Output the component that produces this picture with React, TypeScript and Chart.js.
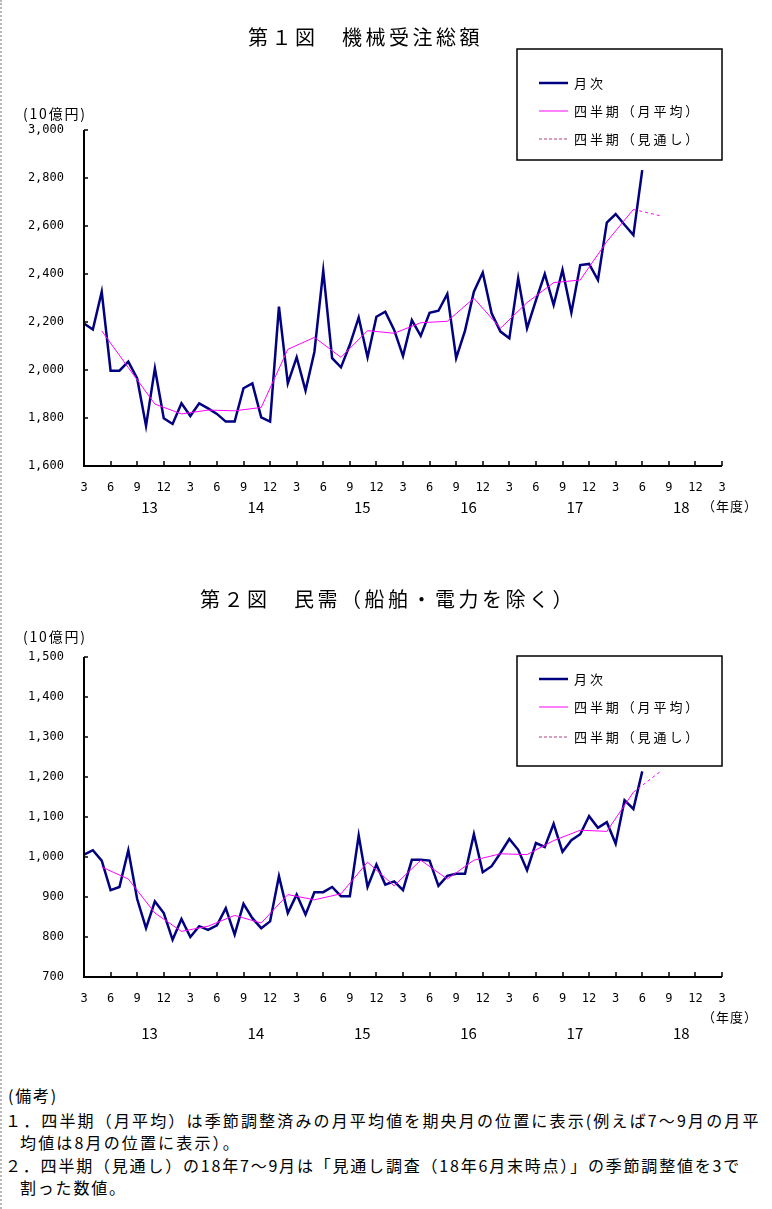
import React, { useEffect, useRef } from "react";
import { Chart, registerables } from "chart.js";

Chart.register(...registerables);

// ---------- data ----------
// x index 0 = March 2013 (FY labels "3 6 9 12"), one step per month
const MONTH_TICK_LABELS = ["3", "6", "9", "12"];
const FISCAL_YEARS = ["13", "14", "15", "16", "17", "18"];

// Fig.1 machinery orders total (10 billion yen), monthly Mar-2013 .. Jun-2018
const total_monthly = [
  2194, 2169, 2326, 1997, 1997, 2035, 1965, 1767, 2007, 1799, 1775, 1861,
  1808, 1861, 1840, 1817, 1785, 1785, 1924, 1944, 1803, 1785, 2264, 1944,
  2053, 1914, 2075, 2414, 2049, 2011, 2105, 2219, 2053, 2222, 2243, 2167,
  2058, 2208, 2142, 2238, 2247, 2317, 2049, 2164, 2326, 2406, 2236, 2160,
  2132, 2382, 2174, 2290, 2400, 2271, 2417, 2239, 2437, 2442, 2375, 2614,
  2650, 2605, 2562, 2833,
];
// quarterly average, plotted at the middle month of each quarter (May-2013 ..)
const total_quarterly = [
  2163, 2010, 1858, 1817, 1833, 1830, 1844, 2086, 2136, 2053, 2164,
  2153, 2197, 2203, 2299, 2174, 2281, 2364, 2375, 2535, 2669,
];
// outlook: last quarter (Apr-Jun 2018) -> Jul-Sep 2018 outlook
const total_outlook = [2669, 2643];

// Fig.2 private demand excluding ships & electric power
const private_monthly = [
  1006, 1017, 991, 917, 925, 1017, 895, 822, 889, 860, 793, 845,
  800, 827, 818, 829, 872, 806, 883, 847, 822, 839, 952, 860,
  906, 856, 912, 912, 925, 902, 902, 1054, 925, 981, 931, 939,
  917, 993, 993, 991, 928, 953, 958, 958, 1057, 962, 977, 1010,
  1045, 1018, 967, 1035, 1025, 1083, 1013, 1042, 1057, 1102, 1073, 1087,
  1033, 1142, 1120, 1214,
];
const private_quarterly = [
  975, 945, 860, 814, 827, 854, 835, 906, 893, 908, 987,
  928, 992, 945, 992, 1008, 1006, 1041, 1067, 1064, 1162,
];
const private_outlook = [1162, 1213];

const LEGEND_LABELS = ["月次", "四半期（月平均）", "四半期（見通し）"];

// ---------- styles ----------
const JP = "'Noto Sans CJK JP', 'Noto Sans', sans-serif";
const MONO = "'DejaVu Sans Mono', monospace";
const NAVY = "#000080";
const MAGENTA = "#ff00ff";

const monthlyPts = (arr: number[]) => arr.map((v, i) => ({ x: i, y: v }));
const quarterlyPts = (arr: number[]) => arr.map((v, i) => ({ x: 2 + 3 * i, y: v }));
const outlookPts = (arr: number[]) => arr.map((v, i) => ({ x: 62 + 3 * i, y: v }));

type Cfg = {
  top: number;
  height: number;
  padTop: number;
  xAxisH: number;
  yMin: number;
  yMax: number;
  step: number;
  monthly: number[];
  quarterly: number[];
  outlook: number[];
  unitY: number;
  yearY: number;
  nendoY: number;
  legendBox: [number, number, number, number];
  legendRows: number[];
};

const decorPlugin = {
  id: "decor",
  afterDraw(chart: any, _args: any, opts: any) {
    const cfg: Cfg = opts.cfg;
    const ctx: CanvasRenderingContext2D = chart.ctx;
    const { left, right, top, bottom } = chart.chartArea;
    const xs = chart.scales.x;
    const ys = chart.scales.y;
    ctx.save();
    // axes
    ctx.strokeStyle = "#000";
    ctx.lineWidth = 2;
    ctx.beginPath();
    ctx.moveTo(left, top);
    ctx.lineTo(left, bottom);
    ctx.lineTo(right, bottom);
    ctx.stroke();
    // inward ticks
    ctx.lineWidth = 1.5;
    ctx.beginPath();
    ys.ticks.forEach((t: any) => {
      const y = Math.round(ys.getPixelForValue(t.value));
      ctx.moveTo(left, y);
      ctx.lineTo(left + 4, y);
    });
    xs.ticks.forEach((t: any) => {
      const x = Math.round(xs.getPixelForValue(t.value));
      ctx.moveTo(x, bottom);
      ctx.lineTo(x, bottom - 5);
    });
    ctx.stroke();

    // fiscal year labels
    ctx.fillStyle = "#000";
    ctx.textAlign = "center";
    ctx.textBaseline = "middle";
    ctx.font = `15px ${JP}`;
    FISCAL_YEARS.forEach((fy, k) => {
      ctx.fillText(fy, xs.getPixelForValue(7.4 + 12 * k), cfg.yearY);
    });
    ctx.font = `13px ${JP}`;
    (ctx as any).letterSpacing = "1px";
    ctx.textAlign = "left";
    ctx.fillText("（年度）", 702, cfg.nendoY);
    ctx.font = `14px ${JP}`;
    (ctx as any).letterSpacing = "1.8px";
    ctx.fillText("(10億円)", 23, cfg.unitY);
    (ctx as any).letterSpacing = "0px";

    // legend
    const [bx, by, bw, bh] = cfg.legendBox;
    ctx.fillStyle = "#fff";
    ctx.fillRect(bx, by, bw, bh);
    ctx.strokeStyle = "#000";
    ctx.lineWidth = 1.5;
    ctx.strokeRect(bx, by, bw, bh);
    const sampleStyles = [
      { c: NAVY, w: 2.5, d: [] as number[] },
      { c: MAGENTA, w: 1, d: [] as number[] },
      { c: "#b0407c", w: 1, d: [3, 2] },
    ];
    cfg.legendRows.forEach((ry, k) => {
      const s = sampleStyles[k];
      ctx.beginPath();
      ctx.strokeStyle = s.c;
      ctx.lineWidth = s.w;
      ctx.setLineDash(s.d);
      ctx.moveTo(539, ry);
      ctx.lineTo(568, ry);
      ctx.stroke();
      ctx.setLineDash([]);
      ctx.fillStyle = "#000";
      ctx.font = `13px ${JP}`;
      (ctx as any).letterSpacing = "2.9px";
      ctx.textAlign = "left";
      ctx.textBaseline = "middle";
      ctx.fillText(LEGEND_LABELS[k], 574, ry);
      (ctx as any).letterSpacing = "0px";
    });
    ctx.restore();
  },
};

function LineChart({ cfg }: { cfg: Cfg }) {
  const ref = useRef<HTMLCanvasElement | null>(null);
  useEffect(() => {
    if (!ref.current) return;
    const chart = new Chart(ref.current, {
      type: "line",
      data: {
        datasets: [
          {
            label: LEGEND_LABELS[1],
            data: quarterlyPts(cfg.quarterly),
            borderColor: MAGENTA,
            borderWidth: 1,
            pointRadius: 0,
            tension: 0,
          },
          {
            label: LEGEND_LABELS[2],
            data: outlookPts(cfg.outlook),
            borderColor: MAGENTA,
            borderWidth: 1,
            borderDash: [3, 3],
            pointRadius: 0,
            tension: 0,
          },
          {
            label: LEGEND_LABELS[0],
            data: monthlyPts(cfg.monthly),
            borderColor: NAVY,
            borderWidth: 2.5,
            pointRadius: 0,
            tension: 0,
          },
        ],
      },
      options: {
        animation: false,
        responsive: false,
        events: [],
        layout: { padding: { top: cfg.padTop, left: 0, right: 50, bottom: 0 } },
        plugins: {
          legend: { display: false },
          tooltip: { enabled: false },
          decor: { cfg },
        } as any,
        scales: {
          x: {
            type: "linear",
            min: 0,
            max: 72,
            grid: { display: false, drawTicks: false },
            border: { display: false },
            afterFit: (s: any) => {
              s.height = cfg.xAxisH;
            },
            ticks: {
              stepSize: 3,
              autoSkip: false,
              maxRotation: 0,
              padding: 15,
              color: "#000",
              font: { family: MONO, size: 12 },
              callback: (v: any) => MONTH_TICK_LABELS[Math.round(Number(v) / 3) % 4],
            },
          },
          y: {
            type: "linear",
            min: cfg.yMin,
            max: cfg.yMax,
            grid: { display: false, drawTicks: false },
            border: { display: false },
            afterFit: (s: any) => {
              s.width = 84;
            },
            ticks: {
              stepSize: cfg.step,
              padding: 20,
              color: "#000",
              font: { family: MONO, size: 12 },
              callback: (v: any) => Number(v).toLocaleString("en-US"),
            },
          },
        },
      },
      plugins: [decorPlugin],
    } as any);
    return () => chart.destroy();
  }, [cfg]);
  return (
    <canvas
      ref={ref}
      width={772}
      height={cfg.height}
      style={{ position: "absolute", left: 0, top: cfg.top, width: 772, height: cfg.height }}
    />
  );
}

const CFG1: Cfg = {
  top: 0,
  height: 540,
  padTop: 130,
  xAxisH: 74,
  yMin: 1600,
  yMax: 3000,
  step: 200,
  monthly: total_monthly,
  quarterly: total_quarterly,
  outlook: total_outlook,
  unitY: 114,
  yearY: 507,
  nendoY: 506,
  legendBox: [517, 49, 205, 111],
  legendRows: [83, 111, 139],
};

const CFG2: Cfg = {
  top: 560,
  height: 500,
  padTop: 97,
  xAxisH: 83,
  yMin: 700,
  yMax: 1500,
  step: 100,
  monthly: private_monthly,
  quarterly: private_quarterly,
  outlook: private_outlook,
  unitY: 77,
  yearY: 473,
  nendoY: 457,
  legendBox: [517, 96, 205, 110],
  legendRows: [119, 147, 177],
};

const titleStyle: React.CSSProperties = {
  position: "absolute",
  fontFamily: JP,
  fontSize: 20,
  lineHeight: "20px",
  letterSpacing: "3.5px",
  whiteSpace: "nowrap",
  color: "#000",
};

const noteStyle: React.CSSProperties = {
  position: "absolute",
  fontFamily: JP,
  fontSize: 16,
  lineHeight: "16px",
  letterSpacing: "1.8px",
  whiteSpace: "nowrap",
  color: "#000",
};

export default function App() {
  return (
    <div
      style={{
        position: "absolute",
        left: 0,
        top: 0,
        width: 772,
        height: 1209,
        background: "#fff",
        overflow: "hidden",
      }}
    >
      <div
        style={{
          position: "absolute",
          left: 0,
          top: 0,
          width: 0,
          height: 1209,
          borderLeft: "2px dotted #b8b8b8",
        }}
      />
      <LineChart cfg={CFG1} />
      <LineChart cfg={CFG2} />
      <div style={{ ...titleStyle, left: 248, top: 27 }}>第１図　機械受注総額</div>
      <div style={{ ...titleStyle, left: 200, top: 589 }}>第２図　民需（船舶・電力を除く）</div>
      <div style={{ ...noteStyle, left: 8, top: 1087 }}>(備考)</div>
      <div style={{ ...noteStyle, left: 5, top: 1112, letterSpacing: "2.15px" }}>
        １．四半期（月平均）は季節調整済みの月平均値を期央月の位置に表示(例えば7～9月の月平
      </div>
      <div style={{ ...noteStyle, left: 20, top: 1134, letterSpacing: "2.15px" }}>均値は8月の位置に表示）。</div>
      <div style={{ ...noteStyle, left: 5, top: 1157 }}>
        ２．四半期（見通し）の18年7～9月は「見通し調査（18年6月末時点）」の季節調整値を3で
      </div>
      <div style={{ ...noteStyle, left: 20, top: 1179 }}>割った数値。</div>
    </div>
  );
}
